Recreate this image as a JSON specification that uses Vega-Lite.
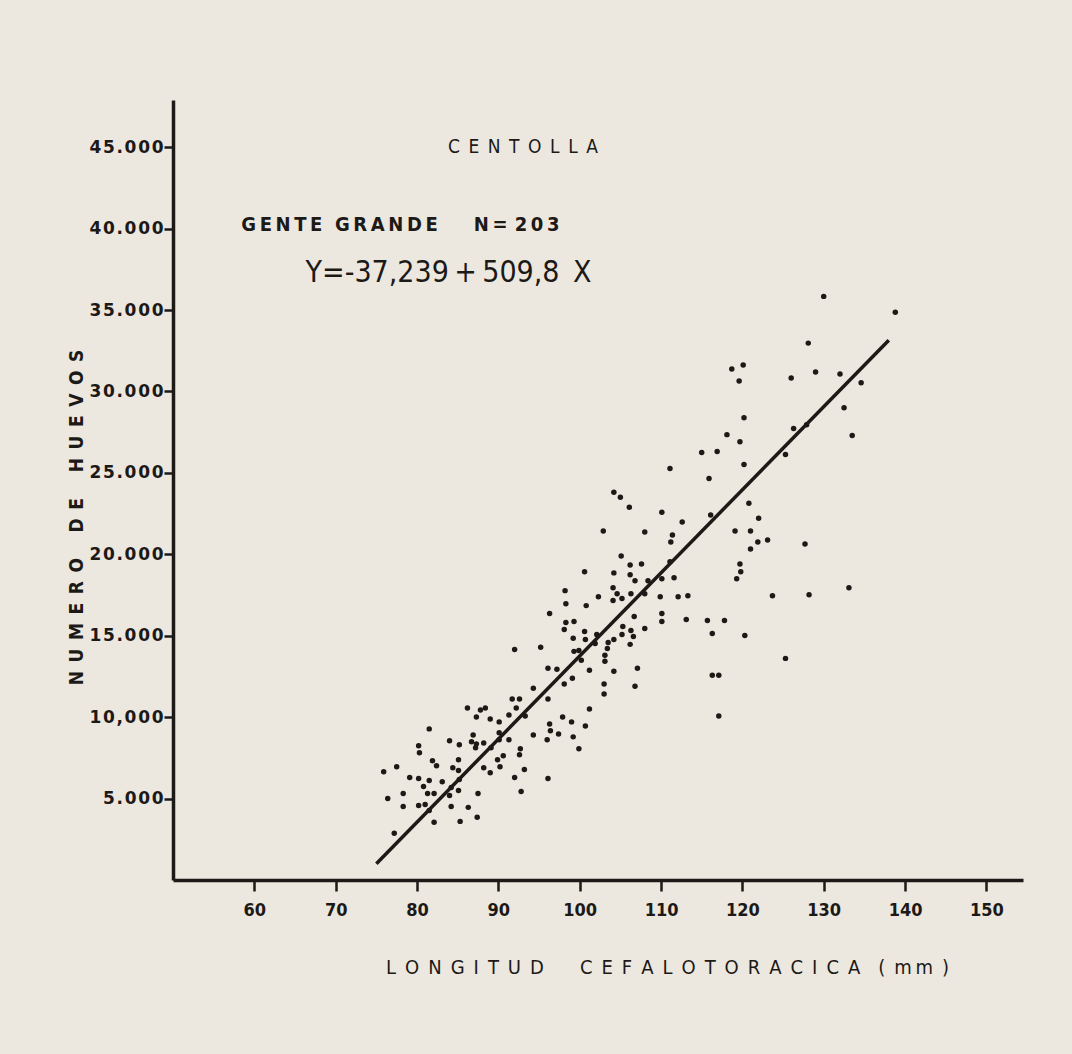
{
  "$schema": "https://vega.github.io/schema/vega-lite/v6.json",
  "autosize": "none",
  "width": 850,
  "height": 780,
  "padding": {"left": 173, "top": 100, "right": 49, "bottom": 174},
  "background": "#ece8df",
  "config": {"view": {"stroke": null}},
  "datasets": {
    "pts": [
      {"x":86.2,"y":10560},{"x":87.8,"y":10440},{"x":88.4,"y":10560},{"x":87.3,"y":10010},{"x":89.0,"y":9890},{"x":90.1,"y":9710},{"x":91.3,"y":10130},{"x":92.2,"y":10560},{"x":93.3,"y":10070},{"x":97.9,"y":10010},
      {"x":99.0,"y":9710},{"x":96.3,"y":9580},{"x":96.4,"y":9160},{"x":97.4,"y":8970},{"x":99.2,"y":8790},{"x":96.0,"y":8610},{"x":99.9,"y":8060},{"x":94.3,"y":8910},{"x":81.5,"y":9280},{"x":84.0,"y":8550},
      {"x":85.2,"y":8300},{"x":80.2,"y":8240},{"x":80.3,"y":7810},{"x":86.9,"y":8910},{"x":86.7,"y":8490},{"x":87.3,"y":8360},{"x":88.2,"y":8420},{"x":87.2,"y":8120},{"x":89.1,"y":8120},{"x":90.1,"y":9040},
      {"x":90.1,"y":8610},{"x":91.3,"y":8610},{"x":92.7,"y":8060},{"x":92.6,"y":7690},{"x":90.6,"y":7630},{"x":89.9,"y":7390},{"x":90.2,"y":6960},{"x":93.2,"y":6780},{"x":92.0,"y":6290},{"x":92.8,"y":5430},
      {"x":96.1,"y":6230},{"x":88.2,"y":6900},{"x":89.0,"y":6590},{"x":85.1,"y":7390},{"x":84.4,"y":6900},{"x":85.1,"y":6720},{"x":85.2,"y":6170},{"x":81.9,"y":7330},{"x":82.4,"y":7020},{"x":77.5,"y":6960},
      {"x":75.9,"y":6650},{"x":79.1,"y":6290},{"x":80.2,"y":6230},{"x":81.5,"y":6110},{"x":83.1,"y":6040},{"x":80.8,"y":5740},{"x":78.3,"y":5310},{"x":81.3,"y":5310},{"x":82.1,"y":5310},{"x":84.2,"y":5680},
      {"x":85.1,"y":5490},{"x":84.0,"y":5190},{"x":87.5,"y":5310},{"x":76.4,"y":5010},{"x":78.3,"y":4520},{"x":80.2,"y":4580},{"x":81.0,"y":4640},{"x":81.5,"y":4270},{"x":84.2,"y":4520},{"x":86.3,"y":4460},
      {"x":82.1,"y":3540},{"x":85.3,"y":3600},{"x":87.4,"y":3850},{"x":77.2,"y":2870},
      {"x":100.6,"y":18930},{"x":104.2,"y":18860},{"x":106.2,"y":19350},{"x":107.6,"y":19410},{"x":106.2,"y":18740},{"x":106.8,"y":18380},{"x":108.4,"y":18380},{"x":110.1,"y":18500},{"x":111.6,"y":18560},{"x":104.1,"y":17950},
      {"x":104.6,"y":17580},{"x":105.2,"y":17280},{"x":104.1,"y":17160},{"x":106.3,"y":17580},{"x":108.0,"y":17580},{"x":109.9,"y":17400},{"x":112.1,"y":17400},{"x":102.3,"y":17400},{"x":98.2,"y":17770},{"x":98.3,"y":16970},
      {"x":100.8,"y":16850},{"x":96.3,"y":16360},{"x":98.3,"y":15810},{"x":99.3,"y":15870},{"x":98.1,"y":15380},{"x":100.6,"y":15260},{"x":99.2,"y":14840},{"x":100.7,"y":14770},{"x":102.1,"y":15080},{"x":101.9,"y":14530},
      {"x":103.5,"y":14590},{"x":104.2,"y":14770},{"x":105.2,"y":15080},{"x":105.3,"y":15570},{"x":106.7,"y":16180},{"x":106.3,"y":15320},{"x":106.6,"y":14960},{"x":108.0,"y":15450},{"x":110.1,"y":16360},{"x":110.1,"y":15870},
      {"x":106.2,"y":14470},{"x":103.4,"y":14220},{"x":103.1,"y":13800},{"x":103.1,"y":13430},{"x":104.2,"y":12820},{"x":107.1,"y":13000},{"x":106.8,"y":11900},{"x":103.0,"y":12030},{"x":103.0,"y":11420},{"x":99.9,"y":14100},
      {"x":99.3,"y":14040},{"x":100.2,"y":13490},{"x":101.2,"y":12880},{"x":99.1,"y":12390},{"x":97.2,"y":12940},{"x":96.1,"y":13000},{"x":98.1,"y":12030},{"x":95.2,"y":14290},{"x":92.0,"y":14160},{"x":94.3,"y":11780},
      {"x":96.1,"y":11110},{"x":91.7,"y":11110},{"x":92.6,"y":11110},{"x":101.2,"y":10500},{"x":100.7,"y":9460},
      {"x":115.9,"y":24660},{"x":104.2,"y":23810},{"x":105.0,"y":23500},{"x":106.1,"y":22890},{"x":110.1,"y":22590},{"x":112.6,"y":21980},{"x":102.9,"y":21430},{"x":108.0,"y":21370},{"x":111.4,"y":21180},{"x":111.2,"y":20760},
      {"x":116.1,"y":22410},{"x":120.8,"y":23140},{"x":122.0,"y":22220},{"x":119.1,"y":21430},{"x":121.0,"y":21430},{"x":121.9,"y":20760},{"x":123.1,"y":20880},{"x":121.0,"y":20330},{"x":119.7,"y":19410},{"x":119.8,"y":18930},
      {"x":119.3,"y":18500},{"x":123.7,"y":17460},{"x":105.1,"y":19900},{"x":111.1,"y":19540},{"x":113.3,"y":17460},{"x":113.1,"y":16000},{"x":115.7,"y":15930},{"x":117.8,"y":15930},{"x":116.3,"y":15140},{"x":120.3,"y":15020},
      {"x":116.3,"y":12580},{"x":117.1,"y":12580},
      {"x":118.7,"y":31380},{"x":120.1,"y":31620},{"x":119.6,"y":30650},{"x":126.0,"y":30830},{"x":129.0,"y":31200},{"x":132.0,"y":31070},{"x":134.6,"y":30530},{"x":132.5,"y":29000},{"x":133.5,"y":27290},{"x":128.1,"y":32970},
      {"x":120.2,"y":28390},{"x":118.1,"y":27350},{"x":119.7,"y":26920},{"x":115.0,"y":26250},{"x":116.9,"y":26310},{"x":120.2,"y":25520},{"x":111.1,"y":25270},{"x":126.3,"y":27720},{"x":127.9,"y":27960},{"x":125.3,"y":26130},
      {"x":130.0,"y":35840},{"x":138.8,"y":34860},{"x":127.7,"y":20630},{"x":133.1,"y":17950},{"x":128.2,"y":17520},{"x":125.3,"y":13610},{"x":117.1,"y":10070}
    ],
    "reg": [{"x":75,"y":1000},{"x":138,"y":33150}],
    "ann1": [
      {"x":83.8,"y":45000,"t":"C\u2002E\u2002N\u2002T\u2002O\u2002L\u2002L\u2002A"}
    ],
    "ann2": [
      {"x":58.4,"y":40200,"t":"G\u2009E\u2009N\u2009T\u2009E\u2002\u2009G\u2009R\u2009A\u2009N\u2009D\u2009E\u2003\u2003N\u2009=\u2009\u20092\u20090\u20093"}
    ],
    "eq": [{"x":66.3,"y":37300,"t":"Y=-37,239\u2009+\u2009509,8\u2002X"}]
  },
  "layer": [
    {
      "data": {"name": "pts"},
      "mark": {"type": "point", "filled": true, "size": 30, "color": "#1c1917", "opacity": 1},
      "encoding": {
        "x": {
          "field": "x", "type": "quantitative",
          "scale": {"domain": [50, 154.5], "nice": false, "zero": false},
          "axis": {
            "values": [60,70,80,90,100,110,120,130,140,150],
            "grid": false,
            "domainColor": "#1c1917", "domainWidth": 3.5,
            "tickColor": "#1c1917", "tickWidth": 2.5, "tickSize": 11,
            "labelFont": "DejaVu Sans Condensed", "labelFontSize": 18, "labelFontWeight": "bold",
            "labelColor": "#1c1917", "labelPadding": 10,
            "title": "L\u2002O\u2002N\u2002G\u2002I\u2002T\u2002U\u2002D\u2003\u2003C\u2002E\u2002F\u2002A\u2002L\u2002O\u2002T\u2002O\u2002R\u2002A\u2002C\u2002I\u2002C\u2002A\u2003(\u2002m\u2009m\u2002)",
            "titleFont": "DejaVu Sans Condensed", "titleFontSize": 20, "titleFontWeight": "normal",
            "titleColor": "#1c1917", "titleX": 494, "titleY": 87, "titleAlign": "center", "titleBaseline": "middle"
          }
        },
        "y": {
          "field": "y", "type": "quantitative",
          "scale": {"domain": [0, 47900], "nice": false, "zero": true},
          "axis": {
            "values": [5000,10000,15000,20000,25000,30000,35000,40000,45000],
            "labelExpr": "replace(datum.value == 10000 ? '10,000' : replace(format(datum.value, ','), ',', '.'), regexp('(.)(?=.)', 'g'), '$1\u200a')",
            "grid": false,
            "domainColor": "#1c1917", "domainWidth": 3.5,
            "tickColor": "#1c1917", "tickWidth": 2.5, "tickSize": 9,
            "labelFont": "DejaVu Sans", "labelFontSize": 17, "labelFontWeight": "bold",
            "labelColor": "#1c1917", "labelPadding": 1,
            "title": "N\u2002U\u2002M\u2002E\u2002R\u2002O\u2003\u2002D\u2002E\u2003\u2002H\u2002U\u2002E\u2002V\u2002O\u2002S",
            "titleFont": "DejaVu Sans Condensed", "titleFontSize": 19, "titleFontWeight": "bold",
            "titleColor": "#1c1917", "titleAngle": 270, "titleX": -97, "titleY": 417,
            "titleAlign": "center", "titleBaseline": "middle"
          }
        }
      }
    },
    {
      "data": {"name": "reg"},
      "mark": {"type": "line", "color": "#1c1917", "strokeWidth": 3.5},
      "encoding": {
        "x": {"field": "x", "type": "quantitative"},
        "y": {"field": "y", "type": "quantitative"}
      }
    },
    {
      "data": {"name": "ann1"},
      "mark": {"type": "text", "align": "left", "baseline": "middle", "font": "DejaVu Sans Condensed", "fontSize": 19, "fontWeight": "normal", "color": "#1c1917"},
      "encoding": {
        "x": {"field": "x", "type": "quantitative"},
        "y": {"field": "y", "type": "quantitative"},
        "text": {"field": "t", "type": "nominal"}
      }
    },
    {
      "data": {"name": "ann2"},
      "mark": {"type": "text", "align": "left", "baseline": "middle", "font": "DejaVu Sans Condensed", "fontSize": 20, "fontWeight": "bold", "color": "#1c1917"},
      "encoding": {
        "x": {"field": "x", "type": "quantitative"},
        "y": {"field": "y", "type": "quantitative"},
        "text": {"field": "t", "type": "nominal"}
      }
    },
    {
      "data": {"name": "eq"},
      "mark": {"type": "text", "align": "left", "baseline": "middle", "font": "DejaVu Sans Condensed", "fontSize": 30, "fontWeight": "normal", "color": "#1c1917"},
      "encoding": {
        "x": {"field": "x", "type": "quantitative"},
        "y": {"field": "y", "type": "quantitative"},
        "text": {"field": "t", "type": "nominal"}
      }
    }
  ]
}
